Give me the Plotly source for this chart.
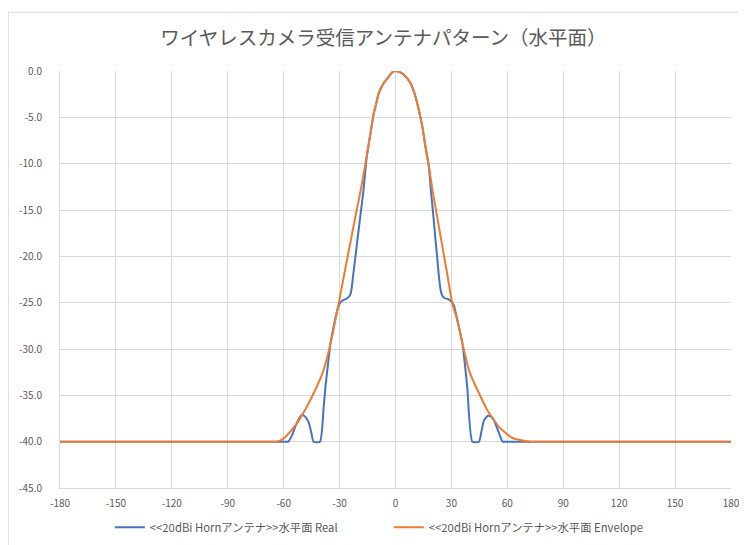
import plotly.graph_objects as go

title_text = "ワイヤレスカメラ受信アンテナパターン（水平面）"
series_names = ["<<20dBi Hornアンテナ>>水平面 Real", "<<20dBi Hornアンテナ>>水平面 Envelope"]
x_ticks = [-180, -150, -120, -90, -60, -30, 0, 30, 60, 90, 120, 150, 180]
y_ticks = [0, -5, -10, -15, -20, -25, -30, -35, -40, -45]

real_angle = [-180, -150, -120, -90, -70, -60, -57.5, -55.5, -53.8, -52, -50.2, -48.5, -46.6, -45.2, -44, -40.5, -38.5, -37.6,
              -36.2, -34.9, -33.2, -31.5, -30.2, -28.7, -26.5, -25.2, -24.2, -23.5, -22.8, -21,
              -19.2, -17.2, -16.3, -15.2, -13.4, -11.7, -10.8, -9, -6.3, -3.6, -1.5, 0,
              2, 4.5, 8, 10.8, 12.5, 14.3, 16.1, 17.9, 19, 20.3, 21.5, 22.5, 23.3, 24.2, 25,
              26.2, 28, 29.6, 31.3, 33.2, 35.9, 37.2, 38.5, 41.2, 44.8, 46.2, 47.5, 49.6, 51.2,
              52.8, 55, 56.3, 57.4, 60, 70, 90, 120, 150, 180]
real_gain = [-40, -40, -40, -40, -40, -40, -40, -39.3, -38.4, -37.6, -37.1, -37.3, -37.9, -39, -40, -40, -36.2, -34.1,
             -31.6, -29.4, -27.6, -26, -25.2, -24.8, -24.6, -24.4, -24.1, -23.4, -22.2, -19.2,
             -16.2, -12.9, -11, -8.9, -6.7, -4.6, -3.9, -2.4, -1.3, -0.6, -0.1, 0,
             -0.1, -0.4, -1.3, -2.8, -4.2, -5.9, -8.2, -10.3, -12.9, -15.6, -18.3, -20.4, -22.2, -23.6, -24.2,
             -24.5, -24.6, -24.8, -25.3, -26.9, -29.4, -31.6, -34.1, -40, -40, -38.8, -37.7, -37.2, -37.3,
             -37.7, -38.8, -39.5, -40, -40, -40, -40, -40, -40, -40]

env_angle = [-180, -150, -120, -90, -70, -64, -61, -58.2, -52.8, -47.5, -43, -39.5, -36.5, -34, -32.3, -30.5, -27, -24, -21,
             -18.8, -17, -15.2, -13.4, -11.7, -10.8, -9, -6.3, -3.6, -1.5, 0,
             2, 4.5, 8, 10.8, 12.5, 14.3, 16.1, 17.9, 19.9, 22.5, 25.2, 28, 30.5, 33.2, 35.9,
             39.4, 43.9, 49.3, 55.5, 61.8, 66, 72.5, 80, 90, 120, 150, 180]
env_gain = [-40, -40, -40, -40, -40, -40, -39.8, -39.3, -38.0, -36.2, -34.4, -32.8, -30.8, -28.6, -26.9, -25.1, -21.4, -18.3, -15.2,
            -13.0, -11.0, -8.9, -6.7, -4.6, -3.9, -2.4, -1.3, -0.6, -0.1, 0,
            -0.1, -0.4, -1.3, -2.8, -4.2, -5.9, -8.2, -10.3, -12.9, -15.9, -19.0, -22.2, -25.1, -26.9, -29.4,
            -32.3, -34.4, -36.6, -38.4, -39.5, -39.8, -40, -40, -40, -40, -40, -40]

blue = "#4472C4"
orange = "#ED7D31"
grey_text = "#595959"
grid = "#D9D9D9"
font_family = "Noto Sans CJK JP, Noto Sans, sans-serif"

fig = go.Figure()
fig.add_trace(go.Scatter(x=real_angle, y=real_gain, mode="lines", name=series_names[0],
                         line=dict(color=blue, width=2, shape="spline", smoothing=0.5)))
fig.add_trace(go.Scatter(x=env_angle, y=env_gain, mode="lines", name=series_names[1],
                         line=dict(color=orange, width=2, shape="spline", smoothing=0.5)))

fig.update_layout(
    width=739, height=537,
    margin=dict(l=52, r=16, t=63, b=57, autoexpand=False),
    paper_bgcolor="white", plot_bgcolor="white",
    font=dict(family=font_family, color=grey_text),
    title=dict(text=title_text, x=0.508, xanchor="center", xref="container",
               y=0.944, yanchor="middle", yref="container",
               font=dict(size=19.5, color=grey_text, family=font_family)),
    showlegend=True,
    legend=dict(orientation="h", x=0.49, xanchor="center", y=-0.094, yanchor="middle",
                font=dict(size=11.3, color=grey_text), itemwidth=30,
                entrywidth=234, entrywidthmode="pixels"),
    xaxis=dict(range=[-180, 180], tickvals=x_ticks, ticktext=[str(v) for v in x_ticks],
               showgrid=True, gridcolor=grid, gridwidth=1, zeroline=False,
               showline=True, linecolor=grid, mirror=False, ticks="", ticklabelstandoff=6,
               tickfont=dict(size=10, color=grey_text)),
    yaxis=dict(range=[-45, 0], tickvals=y_ticks, ticktext=[f"{v:.1f}" for v in y_ticks],
               showgrid=True, gridcolor=grid, gridwidth=1, zeroline=False,
               showline=True, linecolor=grid, ticks="", ticklabelstandoff=15,
               tickfont=dict(size=10, color=grey_text)),
)

fig.add_shape(type="rect", xref="paper", yref="paper", x0=-0.077, x1=1.2, y0=-0.3, y1=1.141,
              line=dict(color="#D9D9D9", width=1), fillcolor="rgba(0,0,0,0)", layer="below")

fig.write_html("out.html")
